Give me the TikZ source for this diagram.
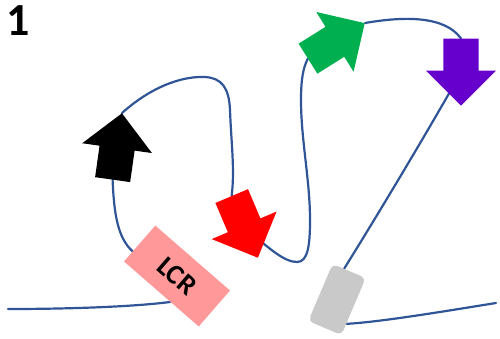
\documentclass[tikz,border=0pt]{standalone}
\usepackage{fontspec}
\setmainfont{Carlito}
\usetikzlibrary{shapes.arrows,backgrounds,calc}
\definecolor{wirecol}{HTML}{2F5597}
\definecolor{cRed}{HTML}{FF0000}
\definecolor{cGreen}{HTML}{00B050}
\definecolor{cPurple}{HTML}{6600CC}
\definecolor{cPink}{HTML}{FF9999}
\definecolor{cGray}{HTML}{C9C9C9}
\begin{document}
\begin{tikzpicture}[x=1pt,y=-1pt,
  wire/.style={draw=wirecol, line width=2.2pt, line cap=round},
  bigarrow/.style={single arrow, draw=none, inner xsep=0pt, inner ysep=17.5pt, minimum height=67pt,
    minimum width=70pt, single arrow head extend=17.5pt, single arrow tip angle=90, anchor=tip},
  labelbox/.style={rectangle, inner sep=0pt}]
\useasboundingbox (0,0) rectangle (500,338);
\node[font=\bfseries\fontsize{46}{46}\selectfont, inner sep=0pt, anchor=base west] (num) at (6,35) {1};
\node[bigarrow, fill=black, rotate=82] (blk) at (122,113) {};
\node[bigarrow, fill=cRed, rotate=-67] (red) at (258,258) {};
\node[bigarrow, fill=cGreen, rotate=32] (grn) at (365,23) {};
\node[bigarrow, fill=cPurple, rotate=-90] (pur) at (461,106) {};
\node[labelbox, fill=cPink, minimum width=99pt, minimum height=47.6pt, rotate=-41,
  font=\bfseries\fontsize{28}{28}\selectfont] (lcr) at (177,276) {LCR};
\node[labelbox, rounded corners=5pt, fill=cGray, minimum width=36pt, minimum height=62pt,
  rotate=-23] (gry) at (337,299.5) {};
\coordinate (L0) at (8,309);
\coordinate (R0) at (496,303);
\begin{scope}[on background layer]
  \draw[wire] (L0) .. controls (80,309) and (140,306) .. ($(lcr.south west)!0.62!(lcr.south east)$);
  \draw[wire] ($(lcr.south west)!0.28!(lcr.north west)$) .. controls (118,238) and (114,215) .. (blk.tail);
  \draw[wire] (blk.tip) .. controls (150,88) and (180,76) .. (205,77)
     .. controls (222,78) and (229,88) .. (230,110)
     .. controls (231,140) and (235,170) .. (red.tail);
  \draw[wire] ($(red.tip)!0.5!(red.tail)$) .. controls (270,250) and (285,262) .. (297,262)
     .. controls (308,262) and (310,245) .. (310,220)
     .. controls (310,180) and (301,140) .. (301,100)
     .. controls (301,80) and (303,68) .. (grn.tail);
  \draw[wire] (grn.tip) .. controls (405,16) and (445,16) .. (pur.tail);
  \draw[wire] ($(pur.tip)!0.5!(pur.tail)$) .. controls (440,110) and (390,195) .. ($(gry.north west)!0.35!(gry.north east)$);
  \draw[wire] ($(gry.north east)!0.8!(gry.south east)$) .. controls (380,322) and (440,312) .. (R0);
\end{scope}
\end{tikzpicture}
\end{document}
